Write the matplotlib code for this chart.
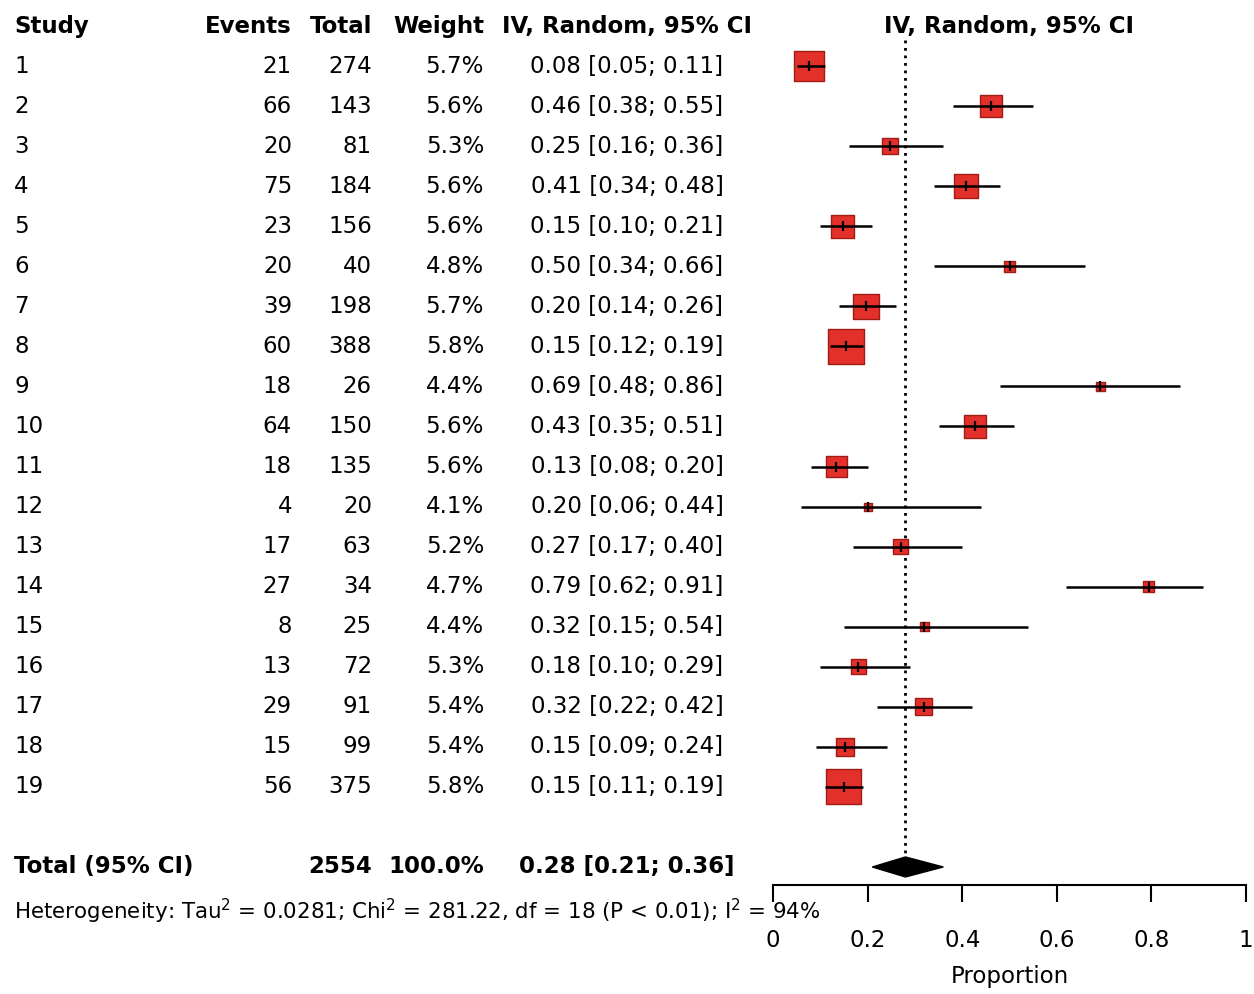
import matplotlib
matplotlib.use("Agg")
import matplotlib.pyplot as plt
import matplotlib.transforms as mtransforms
from matplotlib.patches import Polygon
import numpy as np

# study-level data
studies = [str(i) for i in range(1, 20)]
events = [21, 66, 20, 75, 23, 20, 39, 60, 18, 64, 18, 4, 17, 27, 8, 13, 29, 15, 56]
totals = [274, 143, 81, 184, 156, 40, 198, 388, 26, 150, 135, 20, 63, 34, 25, 72, 91, 99, 375]
weights = [5.7, 5.6, 5.3, 5.6, 5.6, 4.8, 5.7, 5.8, 4.4, 5.6, 5.6, 4.1, 5.2, 4.7, 4.4, 5.3, 5.4, 5.4, 5.8]
estimates = [0.08, 0.46, 0.25, 0.41, 0.15, 0.50, 0.20, 0.15, 0.69, 0.43,
             0.13, 0.20, 0.27, 0.79, 0.32, 0.18, 0.32, 0.15, 0.15]
lower = [0.05, 0.38, 0.16, 0.34, 0.10, 0.34, 0.14, 0.12, 0.48, 0.35,
         0.08, 0.06, 0.17, 0.62, 0.15, 0.10, 0.22, 0.09, 0.11]
upper = [0.11, 0.55, 0.36, 0.48, 0.21, 0.66, 0.26, 0.19, 0.86, 0.51,
         0.20, 0.44, 0.40, 0.91, 0.54, 0.29, 0.42, 0.24, 0.19]

# pooled random-effects result
pooled_n = 2554
pooled_est, pooled_lo, pooled_hi = 0.28, 0.21, 0.36
het_text = (r"Heterogeneity: Tau$^2$ = 0.0281; Chi$^2$ = 281.22, "
            r"df = 18 (P < 0.01); I$^2$ = 94%")

x_ticks = [0, 0.2, 0.4, 0.6, 0.8, 1]
x_ticklabels = ["0", "0.2", "0.4", "0.6", "0.8", "1"]

FS = 16.5
SQ_FACE = "#e4302a"
SQ_EDGE = "#a01c16"

W, H = 1254, 994
fig = plt.figure(figsize=(W / 100, H / 100), dpi=100)
ax = fig.add_axes([773 / W, 1 - 885 / H, 473 / W, 885 / H])

rows = np.arange(1, len(studies) + 1)
total_row = len(studies) + 2
props = np.array(events) / np.array(totals)
n = np.array(totals, dtype=float)

# confidence intervals, boxes sized by sample size, centre ticks
ax.hlines(rows, lower, upper, color="black", lw=1.8, zorder=3)
ax.scatter(props, rows, s=660 * n / n.max(), marker="s",
           facecolor=SQ_FACE, edgecolor=SQ_EDGE, linewidths=1, zorder=2)
ax.plot(props, rows, linestyle="none", marker="|", ms=7, mew=1.6,
        color="black", zorder=4)

# pooled estimate line and diamond
ax.vlines(pooled_est, 0.35, total_row - 0.25, colors="black", lw=2,
          linestyles=(0, (1, 1.7)), zorder=1)
diamond = Polygon([(pooled_lo, total_row), (pooled_est, total_row - 0.25),
                   (pooled_hi, total_row), (pooled_est, total_row + 0.25)],
                  closed=True, facecolor="black", edgecolor="black")
ax.add_patch(diamond)

ax.set_xlim(0, 1)
ax.set_ylim(21.45, -0.65)
for side in ["top", "left", "right"]:
    ax.spines[side].set_visible(False)
ax.spines["bottom"].set_linewidth(1.5)
ax.set_yticks([])
ax.set_xticks(x_ticks)
ax.set_xticklabels(x_ticklabels)
ax.tick_params(axis="x", length=12, width=1.5, pad=20, labelsize=FS)
ax.set_xlabel("Proportion", fontsize=FS, labelpad=9)

# text columns: x in figure fraction, y in row units
tr = mtransforms.blended_transform_factory(fig.transFigure, ax.transData)
col_study = 14 / W
col_events = 292 / W
col_total = 372 / W
col_weight = 484 / W
col_ci = 627 / W

hdr = dict(transform=tr, fontsize=FS, fontweight="bold", va="center")
fig.text(col_study, 0, "Study", ha="left", **hdr)
fig.text(col_events, 0, "Events", ha="right", **hdr)
fig.text(col_total, 0, "Total", ha="right", **hdr)
fig.text(col_weight, 0, "Weight", ha="right", **hdr)
fig.text(col_ci, 0, "IV, Random, 95% CI", ha="center", **hdr)
ax.text(0.5, 0, "IV, Random, 95% CI", ha="center", va="center",
        fontsize=FS, fontweight="bold")

body = dict(transform=tr, fontsize=FS, va="center")
for i, r in enumerate(rows):
    fig.text(col_study, r, studies[i], ha="left", **body)
    fig.text(col_events, r, f"{events[i]}", ha="right", **body)
    fig.text(col_total, r, f"{totals[i]}", ha="right", **body)
    fig.text(col_weight, r, f"{weights[i]:.1f}%", ha="right", **body)
    fig.text(col_ci, r, f"{estimates[i]:.2f} [{lower[i]:.2f}; {upper[i]:.2f}]",
             ha="center", **body)

fig.text(col_study, total_row, "Total (95% CI)", ha="left", **hdr)
fig.text(col_total, total_row, f"{pooled_n}", ha="right", **hdr)
fig.text(col_weight, total_row, "100.0%", ha="right", **hdr)
fig.text(col_ci, total_row, f"{pooled_est:.2f} [{pooled_lo:.2f}; {pooled_hi:.2f}]",
         ha="center", **hdr)

fig.text(col_study, 22.1, het_text, transform=tr, fontsize=15.4,
         ha="left", va="center")

fig.savefig("out.png", dpi=100, facecolor="white")
